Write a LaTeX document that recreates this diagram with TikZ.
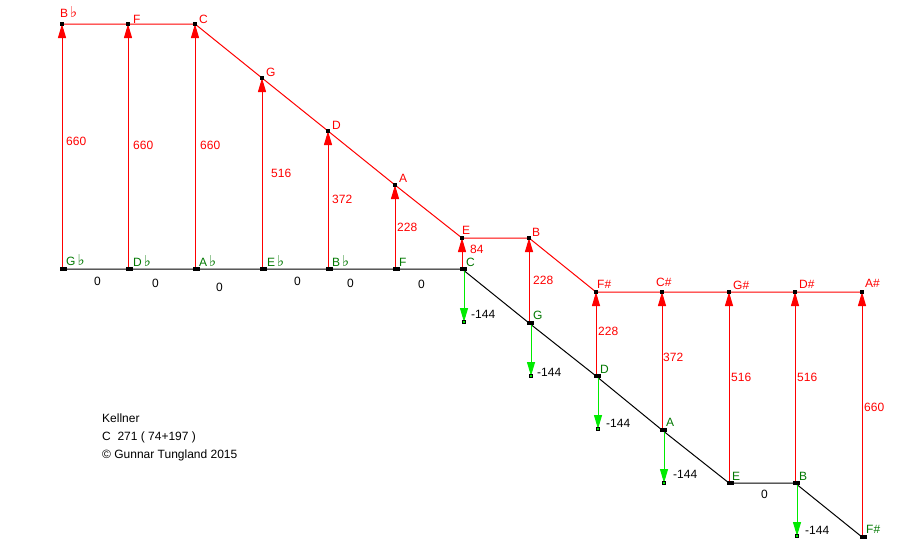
\documentclass[tikz,border=0pt]{standalone}
\usepackage{fontspec}
\setmainfont{Liberation Sans}
\newfontfamily\symfont{DejaVu Sans}
\usetikzlibrary{arrows.meta}
\definecolor{rd}{RGB}{255,0,0}
\definecolor{gn}{RGB}{0,235,0}
\definecolor{dg}{RGB}{0,120,0}
\newcommand{\fl}{{\symfont\fontsize{15}{15}\selectfont\char"266D}}
\begin{document}
\begin{tikzpicture}[x=1pt,y=-1pt,
  font=\fontsize{12}{14}\selectfont,
  redarr/.style={draw=rd,line width=1pt,-{Triangle[width=8pt,length=14pt]},color=rd},
  grnarr/.style={draw=gn,line width=1pt,-{Triangle[width=8pt,length=14pt]},color=gn},
  redline/.style={draw=rd,line width=1pt},
  blkline/.style={draw=black,line width=1pt},
  rlab/.style={anchor=base west,inner sep=0pt,text=rd},
  glab/.style={anchor=base west,inner sep=0pt,text=dg},
  klab/.style={anchor=base west,inner sep=0pt,text=black},
  pt/.style={fill=black,minimum size=4pt,inner sep=0pt,draw=none}
]
\useasboundingbox[fill=white] (0,0) rectangle (917,557);
% upper points
\coordinate (u1) at (62,24);
\coordinate (u2) at (128,24);
\coordinate (u3) at (195,24);
\coordinate (u4) at (262,78);
\coordinate (u5) at (328,131);
\coordinate (u6) at (395,185);
\coordinate (u7) at (462,238);
\coordinate (u8) at (529,238);
\coordinate (u9) at (596,292);
\coordinate (u10) at (662,292);
\coordinate (u11) at (729,292);
\coordinate (u12) at (795,292);
\coordinate (u13) at (862,292);
% lower points
\coordinate (b1) at (62,269);
\coordinate (b2) at (128,269);
\coordinate (b3) at (195,269);
\coordinate (b4) at (262,269);
\coordinate (b5) at (328,269);
\coordinate (b6) at (395,269);
\coordinate (b7) at (462,269);
\coordinate (b8) at (529,323);
\coordinate (b9) at (596,376);
\coordinate (b10) at (662,430);
\coordinate (b11) at (729,483);
\coordinate (b12) at (795,483);
\coordinate (b13) at (862,537);
% green arrow starts / ends
\coordinate (s7) at (464,269);
\coordinate (s8) at (531,323);
\coordinate (s9) at (598,376);
\coordinate (s10) at (664,430);
\coordinate (s12) at (797,483);
\coordinate (e7) at (464,322);
\coordinate (e8) at (531,376);
\coordinate (e9) at (598,429);
\coordinate (e10) at (664,483);
\coordinate (e12) at (797,536);

% black line
\draw[blkline] (b1) -- (b2) -- (b3) -- (b4) -- (b5) -- (b6) -- (b7) -- (b8) -- (b9) -- (b10) -- (b11) -- (b12) -- (b13);
% red arrows
\foreach \i in {1,...,13} {\draw[redarr] (b\i) -- (u\i);}
% red line
\draw[redline] (u1) -- (u2) -- (u3) -- (u4) -- (u5) -- (u6) -- (u7) -- (u8) -- (u9) -- (u10) -- (u11) -- (u12) -- (u13);
% green arrows
\foreach \i in {7,8,9,10,12} {\draw[grnarr] (s\i) -- (e\i);}
% point markers
\foreach \i in {1,...,13} {\node[pt,minimum size=3.5pt] at (u\i) {};}
\foreach \i in {1,...,13} {\node[pt,minimum width=7pt,minimum height=4pt] at ([xshift=1.5pt]b\i) {};}
\foreach \i in {7,8,9,10,12} {\node[draw=black,fill=gn,line width=0.8pt,minimum size=3.5pt,inner sep=0pt] at (e\i) {};}

% red note labels
\node[rlab] (nu1) at (60,17) {B\,\fl};
\node[rlab] (nu2) at (133,23) {F};
\node[rlab] (nu3) at (199,23) {C};
\node[rlab] (nu4) at (266,76) {G};
\node[rlab] (nu5) at (332,129) {D};
\node[rlab] (nu6) at (399,182) {A};
\node[rlab] (nu7) at (462,234) {E};
\node[rlab] (nu8) at (532,236) {B};
\node[rlab] (nu9) at (597,288) {F\#};
\node[rlab] (nu10) at (656,286) {C\#};
\node[rlab] (nu11) at (733,289) {G\#};
\node[rlab] (nu12) at (799,288) {D\#};
\node[rlab] (nu13) at (865,287) {A\#};
% red values
\node[rlab] (v1) at (66,145) {660};
\node[rlab] (v2) at (133,149) {660};
\node[rlab] (v3) at (200,149) {660};
\node[rlab] (v4) at (271,177) {516};
\node[rlab] (v5) at (332,203) {372};
\node[rlab] (v6) at (397,231) {228};
\node[rlab] (v7) at (470,253) {84};
\node[rlab] (v8) at (533,284) {228};
\node[rlab] (v9) at (598,335) {228};
\node[rlab] (v10) at (663,361) {372};
\node[rlab] (v11) at (731,381) {516};
\node[rlab] (v12) at (797,381) {516};
\node[rlab] (v13) at (864,411) {660};
% green note labels
\node[glab] (nb1) at (66,265) {G\,\fl};
\node[glab] (nb2) at (133,266) {D\,\fl};
\node[glab] (nb3) at (199,266) {A\,\fl};
\node[glab] (nb4) at (267,266) {E\,\fl};
\node[glab] (nb5) at (332,266) {B\,\fl};
\node[glab] (nb6) at (399,266) {F};
\node[glab] (nb7) at (466,266) {C};
\node[glab] (nb8) at (533,319) {G};
\node[glab] (nb9) at (600,373) {D};
\node[glab] (nb10) at (666,426) {A};
\node[glab] (nb11) at (732,480) {E};
\node[glab] (nb12) at (799,480) {B};
\node[glab] (nb13) at (866,533) {F\#};
% zeros
\node[klab] (z1) at (94,285) {0};
\node[klab] (z2) at (152,287) {0};
\node[klab] (z3) at (216,291) {0};
\node[klab] (z4) at (294,285) {0};
\node[klab] (z5) at (347,287) {0};
\node[klab] (z6) at (418,288) {0};
\node[klab] (z7) at (761,498) {0};
% -144
\node[klab] (m7) at (471,318) {-144};
\node[klab] (m8) at (537,376) {-144};
\node[klab] (m9) at (606,427) {-144};
\node[klab] (m10) at (673,478) {-144};
\node[klab] (m12) at (805,534) {-144};
% caption
\node[klab] (t1) at (102,422) {Kellner};
\node[klab] (t2) at (102,440) {C\ \ 271 ( 74+197 )};
\node[klab] (t3) at (102,458) {© Gunnar Tungland 2015};
\end{tikzpicture}
\end{document}
